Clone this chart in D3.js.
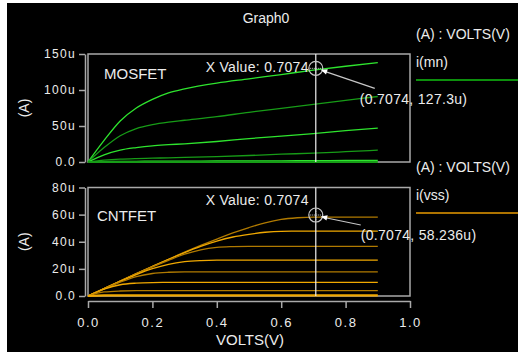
<!DOCTYPE html>
<html>
<head>
<meta charset="utf-8">
<script src="https://cdn.jsdelivr.net/npm/d3@7"></script>
<style>
  body { margin: 0; background: #fff; }
  text { font-family: "Liberation Sans", Arial, sans-serif; fill: #ececec; }
</style>
</head>
<body>
<div id="chart"></div>
<script>
// ---- data ----
var mosVds = [0, 0.05, 0.1, 0.15, 0.2, 0.25, 0.3, 0.4, 0.5, 0.6, 0.7, 0.8, 0.9];
var mosCurves = [
  [0, 30, 57, 75, 87, 96, 101.5, 109.5, 115.5, 121.5, 127.5, 133, 138],
  [0, 20, 36.5, 46.5, 52, 55.5, 58, 63, 69, 74.5, 80, 85.5, 91],
  [0, 10, 16.5, 20, 22.5, 24, 25.3, 28.5, 32.5, 36, 39.5, 43.5, 47],
  [0, 2.5, 4, 4.8, 5.3, 5.8, 6.3, 7.5, 9, 10.8, 12.3, 14.3, 16.5],
  [0, 0.5, 0.8, 1, 1.1, 1.2, 1.3, 1.4, 1.6, 1.7, 1.9, 2.1, 2.3],
  [0, 0, 0, 0, 0, 0, 0, 0, 0, 0, 0, 0, 0]
];
var cntVds = [0, 0.05, 0.1, 0.15, 0.2, 0.25, 0.3, 0.35, 0.4, 0.45, 0.5, 0.55, 0.6, 0.65, 0.7, 0.75, 0.8, 0.85, 0.9];
var cntCurves = [
  [0, 5.5, 11, 16.5, 21.8, 27, 32.3, 37.3, 42, 46.5, 50.5, 54, 56.5, 57.7, 58.2, 58.2, 58.2, 58.2, 58.2],
  [0, 5.5, 11, 16.5, 21.8, 27, 32, 36.6, 40.5, 43.5, 45.5, 47, 47.7, 47.8, 47.8, 47.8, 47.8, 47.8, 47.8],
  [0, 5.5, 11, 16.4, 21.5, 26.3, 30.8, 34, 35.8, 36.4, 36.6, 36.6, 36.6, 36.6, 36.6, 36.6, 36.6, 36.6, 36.6],
  [0, 5.4, 10.8, 15.8, 20.2, 23.4, 25.3, 26.1, 26.4, 26.4, 26.4, 26.4, 26.4, 26.4, 26.4, 26.4, 26.4, 26.4, 26.4],
  [0, 5.3, 10.2, 14.3, 16.6, 17.5, 17.8, 17.8, 17.8, 17.8, 17.8, 17.8, 17.8, 17.8, 17.8, 17.8, 17.8, 17.8, 17.8],
  [0, 5, 8.3, 9.5, 9.9, 10, 10, 10, 10, 10, 10, 10, 10, 10, 10, 10, 10, 10, 10],
  [0, 3, 3.7, 3.9, 3.9, 3.9, 3.9, 3.9, 3.9, 3.9, 3.9, 3.9, 3.9, 3.9, 3.9, 3.9, 3.9, 3.9, 3.9],
  [0, 0.4, 0.5, 0.5, 0.5, 0.5, 0.5, 0.5, 0.5, 0.5, 0.5, 0.5, 0.5, 0.5, 0.5, 0.5, 0.5, 0.5, 0.5]
];
var xTicks = [0, 0.2, 0.4, 0.6, 0.8, 1.0];
var topTicks = [0, 50, 100, 150];
var botTicks = [0, 20, 40, 60, 80];
var cursorX = 0.7074;
var cursorTop = 127.3;
var cursorBot = 58.236;

var W = 518, H = 352;
var svg = d3.select("#chart").append("svg")
  .attr("width", W).attr("height", H);

svg.append("rect").attr("x", 7).attr("y", 3)
  .attr("width", W - 7).attr("height", H - 3).attr("fill", "#000");

var gray = "#a9a9a9";
var x = d3.scaleLinear().domain([0, 1]).range([88, 410]);
var yTop = d3.scaleLinear().domain([0, 150]).range([162, 54]);
var yBot = d3.scaleLinear().domain([0, 80]).range([296, 187.5]);

function yFmt(d) { return d === 0 ? "0.0" : d + "u"; }

function drawPanel(y, ticks, vds, curves, colors, name, cursorVal, labelTxt, labOff, legendY, legendName, legendColor) {
  // y axis
  var ax = svg.append("g")
    .attr("transform", "translate(85,0)")
    .call(d3.axisLeft(y).tickValues(ticks).tickFormat(yFmt).tickSize(6).tickSizeOuter(0).tickPadding(3));
  ax.select(".domain").attr("stroke", gray).attr("stroke-width", 1.5);
  ax.selectAll(".tick line").attr("stroke", gray).attr("stroke-width", 1.5);
  ax.selectAll(".tick text").attr("fill", "#ececec")
    .style("font-family", "'Liberation Sans', Arial, sans-serif")
    .style("font-size", "12px").style("letter-spacing", "1.3px");

  // frame
  svg.append("rect")
    .attr("x", x(0)).attr("y", y.range()[1])
    .attr("width", x(1) - x(0)).attr("height", y.range()[0] - y.range()[1])
    .attr("fill", "none").attr("stroke", gray).attr("stroke-width", 1.5);

  // y label
  var my = (y.range()[0] + y.range()[1]) / 2;
  svg.append("text").attr("transform", "translate(29," + my + ") rotate(-90)")
    .attr("text-anchor", "middle").style("font-size", "14px").text("(A)");

  // curves
  var line = d3.line()
    .x(function(d, i) { return x(vds[i]); })
    .y(function(d) { return y(d); })
    .curve(d3.curveMonotoneX);
  svg.append("g").selectAll("path")
    .data(curves)
    .enter().append("path")
      .attr("d", line)
      .attr("fill", "none")
      .attr("stroke", function(d, i) { return colors[i % 2]; })
      .attr("stroke-width", function(d, i) { return i === curves.length - 1 ? 2.2 : 1.3; });

  // panel name
  svg.append("text").attr("x", name.x).attr("y", name.y)
    .style("font-size", "15px").attr("fill", "#eef4ff").text(name.t);

  // cursor
  var cx = x(cursorX);
  svg.append("line").attr("x1", cx).attr("x2", cx)
    .attr("y1", y.range()[1]).attr("y2", y.range()[0])
    .attr("stroke", "#f0f0f0").attr("stroke-width", 1.2);
  svg.append("text").attr("x", cx - 7).attr("y", name.xvY)
    .attr("text-anchor", "end").style("font-size", "14px").style("letter-spacing", "0.3px")
    .text("X Value: " + cursorX);

  var cy = y(cursorVal) - 2;
  svg.append("circle").attr("cx", cx).attr("cy", cy).attr("r", 7)
    .attr("fill", "none").attr("stroke", "#c8c8c8").attr("stroke-width", 1.2);
  svg.append("line").attr("x1", cx - 6).attr("x2", cx + 6).attr("y1", cy).attr("y2", cy)
    .attr("stroke", "#d0d0d0").attr("stroke-dasharray", "1,1");
  svg.append("line").attr("x1", cx).attr("x2", cx).attr("y1", cy - 6).attr("y2", cy + 6)
    .attr("stroke", "#d0d0d0").attr("stroke-dasharray", "1,1");

  // arrow to the value label
  var ex = cx + labOff.ax, ey = cy + labOff.ay;
  svg.append("line").attr("x1", cx + 6).attr("y1", cy + 2)
    .attr("x2", ex).attr("y2", ey)
    .attr("stroke", "#c8c8c8").attr("stroke-width", 1.2);
  var ang = Math.atan2(ey - cy, ex - cx);
  var tipX = cx + 5, tipY = cy + 1.5;
  var p1 = [tipX + 7 * Math.cos(ang + 0.4), tipY + 7 * Math.sin(ang + 0.4)];
  var p2 = [tipX + 7 * Math.cos(ang - 0.4), tipY + 7 * Math.sin(ang - 0.4)];
  svg.append("path").attr("d", "M" + tipX + "," + tipY + "L" + p1 + "L" + p2 + "Z")
    .attr("fill", "#ffffff");
  svg.append("text").attr("x", cx + labOff.tx).attr("y", cy + labOff.ty)
    .style("font-size", "14px").style("letter-spacing", "0.3px").text(labelTxt);

  // legend
  svg.append("text").attr("x", 416).attr("y", legendY)
    .style("font-size", "14px").text("(A) : VOLTS(V)");
  svg.append("text").attr("x", 416).attr("y", legendY + 28)
    .style("font-size", "14px").text(legendName);
  svg.append("line").attr("x1", 416).attr("x2", 518)
    .attr("y1", legendY + 41).attr("y2", legendY + 41)
    .attr("stroke", legendColor).attr("stroke-width", 1.3);
}

// title
svg.append("text").attr("x", 266).attr("y", 23)
  .attr("text-anchor", "middle").style("font-size", "14px").text("Graph0");

drawPanel(yTop, topTicks, mosVds, mosCurves, ["#2ee42e", "#179c17"],
  {t: "MOSFET", x: 104, y: 79, xvY: 72},
  cursorTop, "(" + cursorX + ", " + cursorTop + "u)",
  {ax: 59, ay: 20, tx: 44, ty: 36}, 39, "i(mn)", "#12c012");

drawPanel(yBot, botTicks, cntVds, cntCurves, ["#b07a00", "#f0a800"],
  {t: "CNTFET", x: 97, y: 221, xvY: 205},
  cursorBot, "(" + cursorX + ", " + cursorBot + "u)",
  {ax: 45, ay: 10, tx: 45, ty: 25}, 172, "i(vss)", "#e89a00");

// x axis
var xa = svg.append("g")
  .attr("transform", "translate(0,301)")
  .call(d3.axisBottom(x).tickValues(xTicks).tickFormat(d3.format(".1f"))
    .tickSize(7).tickSizeOuter(0).tickPadding(10));
xa.select(".domain").attr("stroke", gray).attr("stroke-width", 1.5);
xa.selectAll(".tick line").attr("stroke", gray).attr("stroke-width", 1.5);
xa.selectAll(".tick text").attr("fill", "#ececec")
  .style("font-family", "'Liberation Sans', Arial, sans-serif")
  .style("font-size", "13px").style("letter-spacing", "1.5px");

svg.append("text").attr("x", 250).attr("y", 345)
  .attr("text-anchor", "middle").style("font-size", "15px").text("VOLTS(V)");
</script>
</body>
</html>
